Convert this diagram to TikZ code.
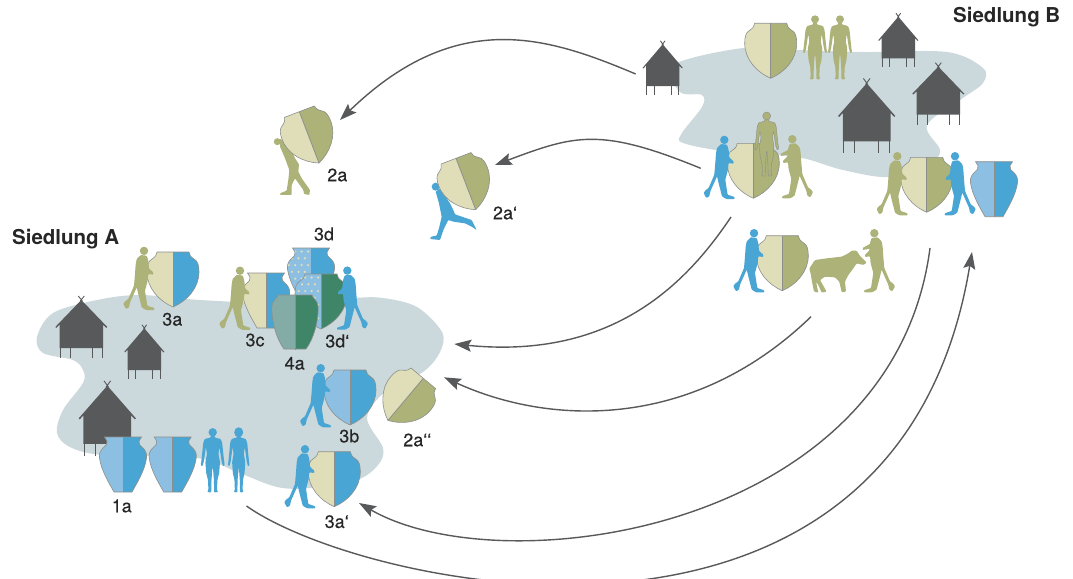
\documentclass[tikz,border=0pt]{standalone}
\usepackage{fontspec}
\setmainfont{TeX Gyre Heros}
\newfontface\labelface[FakeBold=0.25]{TeX Gyre Heros}
\usetikzlibrary{arrows.meta,calc}

\definecolor{pale}{HTML}{E0DEB8}
\definecolor{olive}{HTML}{ACB278}
\definecolor{potblue}{HTML}{49A5D3}
\definecolor{skyblue}{HTML}{8CBFE1}
\definecolor{ground}{HTML}{CBD8DC}
\definecolor{hut}{HTML}{58595B}
\definecolor{teal}{HTML}{3F8568}
\definecolor{paleteal}{HTML}{84ACA6}
\definecolor{potline}{HTML}{8C8F8C}

\tikzset{
  route/.style={draw=hut,line width=1.4pt,-{Stealth[length=17pt,width=12pt,inset=3pt]}},
  lbl/.style={font=\labelface\fontsize{18}{20}\selectfont,text=black!85,inner sep=0pt},
  place/.style={font=\bfseries\fontsize{20.5}{23}\selectfont,text=black!85,inner sep=0pt},
  potedge/.style={draw=potline,line width=.6pt},
  ground area/.style={fill=ground},
}

% half outlines of the vessels: axis top to axis bottom, on the right-hand side
\def\halfshield{(0,0) -- (16,0) .. controls (16,3) and (18,5) .. (21,7) .. controls (25,9) and (26,14) .. (26,20) .. controls (26,36) and (14,49) .. (0,55)}
\def\halftall{(0,0) -- (18.5,0) -- (16,4) .. controls (15,7) and (17,8) .. (20,11) .. controls (23,14) and (24,17) .. (23.5,21) .. controls (22,33) and (14,46) .. (9,55) -- (0,55)}
\def\halfround{(0,0) -- (17,0) .. controls (17,3) and (22,4) .. (23,11) .. controls (24,26) and (18,45) .. (11,54) -- (0,54)}

% vessel: type, x, y, rotation, left colour, right colour
\newcommand\vessel[6]{%
  \begin{scope}[shift={(#2,#3)},rotate=#4]
    \fill[#6] \csname half#1\endcsname -- cycle;
    \draw[potedge] \csname half#1\endcsname;
    \begin{scope}[xscale=-1]
      \fill[#5] \csname half#1\endcsname -- cycle;
      \draw[potedge] \csname half#1\endcsname;
    \end{scope}
    \draw[potedge,line width=.8pt] (0,0) -- (0,55);
  \end{scope}}

% vessel whose left half carries a dotted pattern
\newcommand\dottedvessel[4]{%
  \begin{scope}[shift={(#2,#3)}]
    \fill[#4] \csname half#1\endcsname -- cycle;
    \draw[potedge] \csname half#1\endcsname;
    \begin{scope}[xscale=-1]
      \fill[skyblue] \csname half#1\endcsname -- cycle;
      \begin{scope}
        \clip \csname half#1\endcsname -- cycle;
        \foreach \r in {0,...,7}{
          \foreach \c in {0,...,4}{
            \fill[pale] ({3+\c*6.4+mod(\r,2)*3.2},{3.5+\r*6.8}) circle (1.25);
          }}
      \end{scope}
      \draw[potedge] \csname half#1\endcsname;
    \end{scope}
    \draw[potedge,line width=.8pt] (0,0) -- (0,55);
  \end{scope}}

% stilt house: apex x, apex y, horizontal scale, vertical scale
\newcommand\house[4]{%
  \begin{scope}[shift={(#1,#2)},xscale=#3,yscale=#4]
    \fill[hut] (0,0) -- (26,27) -- (25,27.8) -- (21.7,24.5) -- (21.7,48) -- (-21.7,48) -- (-21.7,24.5) -- (-25,27.8) -- (-26,27) -- cycle;
    \draw[hut,line width=.9pt] (-3,-4) -- (1,1) (3,-4) -- (-1,1);
    \draw[hut,line width=1pt] (-21,47) -- (-21,58) (-11,47) -- (-11,58) (11,47) -- (11,58) (21,47) -- (21,58);
  \end{scope}}

% walking figure: head-centre x, top y, colour, facing (1 right, -1 left)
\newcommand\walker[4]{%
  \begin{scope}[shift={(#1,#2)},xscale=#4]
    \fill[#3,rounded corners=.8pt] (2.7,9) -- (4.3,14) -- (5,21.7) -- (9.3,25.7) -- (9.3,28) -- (4.3,27.3) -- (3.7,34) -- (1,44) -- (3.3,59) -- (10.3,61.3) -- (10.3,63.3) -- (2,63.3) -- (-2.3,60.7) -- (-5.7,47.3) -- (-7.3,40.7) -- (-14,55.7) -- (-15,60.7) -- (-18,62.3) -- (-20.7,57.3) -- (-19,54.7) -- (-15.7,52.3) -- (-10,39) -- (-9,27.3) -- (-8.3,17.3) -- (-7.3,12.3) -- (-3.3,8.3) -- cycle;
    \fill[#3] (0,4.2) circle (4.2);
  \end{scope}}

% second arm reaching out from a walking figure
\newcommand\reach[4]{%
  \begin{scope}[shift={(#1,#2)},xscale=#4]
    \fill[#3,rounded corners=.6pt] (3.5,14.5) -- (11.5,18.8) -- (11.5,21) -- (3.5,19.5) -- cycle;
  \end{scope}}

% standing figure: x, top y, colour, head radius, extra options
\newcommand\stander[5]{%
  \begin{scope}[shift={(#1,#2)}]
    \fill[#3,rounded corners=.8pt,#5] (1.8,7.5) -- (2,9.5) -- (8,11) -- (9.5,15) -- (10.5,25) -- (11.5,34) -- (12,37) -- (10.5,38.5) -- (9,34) -- (7.5,24) -- (6.8,19) -- (5.7,26) -- (7.3,34) -- (6.5,45) -- (4.7,52) -- (4.3,62) -- (5.5,64) -- (1.5,64.5) -- (1.2,52) -- (0.3,40) -- (-0.3,40) -- (-1.2,52) -- (-1.5,64.5) -- (-5.5,64) -- (-4.3,62) -- (-4.7,52) -- (-6.5,45) -- (-7.3,34) -- (-5.7,26) -- (-6.8,19) -- (-7.5,24) -- (-9,34) -- (-10.5,38.5) -- (-12,37) -- (-11.5,34) -- (-10.5,25) -- (-9.5,15) -- (-8,11) -- (-2,9.5) -- (-1.8,7.5) -- cycle;
    \fill[#3,#5] (0,4.3) circle (#4);
  \end{scope}}

\begin{document}
\begin{tikzpicture}[x=1pt,y=-1pt]
\useasboundingbox (0,0) rectangle (1073,578);

% settlement grounds
\fill[ground area] plot[smooth cycle,tension=.55] coordinates {
  (37,337) (53,313) (97,300) (140,295) (200,300) (280,303) (353,298) (383,298) (417,307) (442,332) (440,352) (423,372)
  (385,392) (367,418) (383,448) (378,465) (357,480) (310,488) (277,487) (237,472) (197,458) (103,455) (70,447) (57,433)
  (63,410) (83,383) (83,370) (73,360) (43,353)};
\fill[ground area] plot[smooth cycle,tension=.55] coordinates {
  (673,65) (743,48) (797,50) (863,52) (947,52) (983,68) (983,83) (963,98) (927,125) (940,150) (930,163) (890,177)
  (843,170) (797,157) (730,152) (683,143) (682,133) (702,107) (702,95) (680,92)};

% houses
\house{81.3}{300}{1}{1}
\house{144.3}{328.3}{.77}{.87}
\house{107.3}{385.7}{1.1}{1.21}
\house{662.7}{44.3}{.77}{.87}
\house{898.3}{16.7}{.77}{.87}
\house{938.3}{66.7}{1}{1}
\house{866.7}{83.3}{1.1}{1.21}

% route end points
\coordinate (bhut) at (635.7,74);
\coordinate (jarTwoA) at (340,120);
\coordinate (bcentre) at (700.7,168.3);
\coordinate (jarTwoAp) at (495,165);
\coordinate (bdown) at (731,217);
\coordinate (atop) at (454.3,344);
\coordinate (blower) at (811,316.7);
\coordinate (aright) at (444,377.3);
\coordinate (bright) at (930,248);
\coordinate (abottom) at (359,503);
\coordinate (aleave) at (246.5,506);
\coordinate (bentry) at (972,252);

% exchange routes
\draw[route] (bhut) .. controls (550,38) and (458,6) .. (jarTwoA);
\draw[route] (bcentre) .. controls (600,127) and (575,135) .. (jarTwoAp);
\draw[route] (bdown) .. controls (688,281) and (615,360) .. (atop);
\draw[route] (blower) .. controls (695,429) and (553,427) .. (aright);
\draw[route] (bright) .. controls (893,533) and (501,585) .. (abottom);
\draw[route] (aleave) .. controls (362,588) and (897,707) .. (bentry);

% vessels of settlement A
\vessel{tall}{123}{437}{0}{skyblue}{potblue}
\vessel{tall}{172.7}{437}{0}{skyblue}{potblue}
\vessel{shield}{173}{252}{0}{pale}{potblue}
\vessel{tall}{266}{273}{0}{pale}{potblue}
\dottedvessel{tall}{311}{248}{potblue}
\dottedvessel{shield}{321}{274}{teal}
\vessel{round}{295}{295}{0}{paleteal}{teal}
\vessel{shield}{350}{370}{0}{skyblue}{potblue}
\vessel{shield}{334.3}{451.7}{0}{pale}{potblue}
\vessel{shield}{423.3}{378.3}{-40}{pale}{olive}

% bent carrier of vessel 2a
\begin{scope}[shift={(270,130)},x=.3333pt,y=-.3333pt]
  \fill[olive,rounded corners=.8pt] (30,25) -- (60,50) -- (75,85) -- (87,103) -- (85,125) -- (95,145) -- (120,180) -- (118,195) -- (102,192) -- (100,180) -- (75,145) -- (65,165) -- (65,195) -- (30,195) -- (30,190) -- (50,182) -- (55,150) -- (58,120) -- (45,85) -- (30,50) -- cycle;
  \fill[olive] (22,35) circle (10.5);
\end{scope}

% running carrier of vessel 2a'
\begin{scope}[shift={(425,175)},x=.3333pt,y=-.3333pt]
  \fill[potblue,rounded corners=.8pt] (45,40) -- (60,62) -- (75,85) -- (85,105) -- (90,118) -- (125,130) -- (140,135) -- (155,165) -- (140,155) -- (120,145) -- (85,140) -- (70,135) -- (55,165) -- (45,195) -- (15,192) -- (18,185) -- (35,182) -- (42,160) -- (50,125) -- (42,85) -- (32,50) -- cycle;
  \fill[potblue] (32,35) circle (12);
\end{scope}

% travelling vessels
\vessel{shield}{299.3}{111.7}{21}{pale}{olive}
\vessel{shield}{456}{158.3}{21}{pale}{olive}

% vessels of settlement B
\vessel{shield}{770.7}{23.3}{0}{pale}{olive}
\vessel{shield}{753.3}{143.3}{0}{pale}{olive}
\vessel{shield}{926.7}{157.3}{0}{pale}{olive}
\vessel{tall}{994}{161.7}{0}{skyblue}{potblue}
\vessel{shield}{782.3}{235.7}{0}{pale}{olive}

% figures walking with vessels
\walker{144}{246.7}{olive}{1}
\walker{240}{266.5}{olive}{1}
\walker{347.3}{266.4}{potblue}{-1}
\walker{320.7}{364}{potblue}{1}
\walker{305}{445}{potblue}{1}
\walker{724.3}{135.7}{potblue}{1}
\walker{792.3}{135}{olive}{-1}
\reach{792.3}{135}{olive}{-1}
\walker{897.3}{152}{olive}{1}
\walker{955}{152}{potblue}{-1}
\walker{754}{229}{potblue}{1}
\walker{874.3}{229}{olive}{-1}
\reach{874.3}{229}{olive}{-1}

% standing figures
\stander{212.7}{428}{potblue}{4.2}{}
\stander{238.7}{428}{potblue}{5}{xscale=.9}
\stander{815}{15}{olive}{4}{}
\stander{840}{15}{olive}{4}{}
\stander{766.7}{111.7}{olive}{4}{draw=potline,line width=.4pt}

% calf
\begin{scope}[shift={(800,240)},x=.3333pt,y=-.3333pt]
  \fill[olive,rounded corners=1pt] (28,85) -- (45,60) -- (80,55) -- (125,50) -- (145,40) -- (155,32) -- (170,32) -- (180,48) -- (200,68) -- (190,75) -- (170,70) -- (160,85) -- (145,105) -- (135,125) -- (138,155) -- (125,157) -- (118,125) -- (105,112) -- (75,110) -- (60,120) -- (80,155) -- (65,158) -- (55,135) -- (48,125) -- (55,158) -- (42,155) -- (35,120) -- (32,100) -- (30,95) -- cycle;
\end{scope}

% labels
\node[place,anchor=west] (siedlungA) at (12,239) {Siedlung A};
\node[place,anchor=west] (siedlungB) at (953,17) {Siedlung B};
\node[lbl] (l2a) at (337.3,175) {2a};
\node[lbl] (l2ap) at (505,213) {2a‘};
\node[lbl] (l3d) at (324,234) {3d};
\node[lbl] (l3a) at (172.3,319.3) {3a};
\node[lbl] (l3c) at (255,340) {3c};
\node[lbl] (l3dp) at (337.3,341) {3d‘};
\node[lbl] (l4a) at (294.7,363.3) {4a};
\node[lbl] (l3b) at (349.3,436) {3b};
\node[lbl] (l2app) at (417.3,440) {2a‘‘};
\node[lbl] (l3ap) at (336.7,521.7) {3a‘};
\node[lbl] (l1a) at (121.7,506) {1a};
\end{tikzpicture}
\end{document}
